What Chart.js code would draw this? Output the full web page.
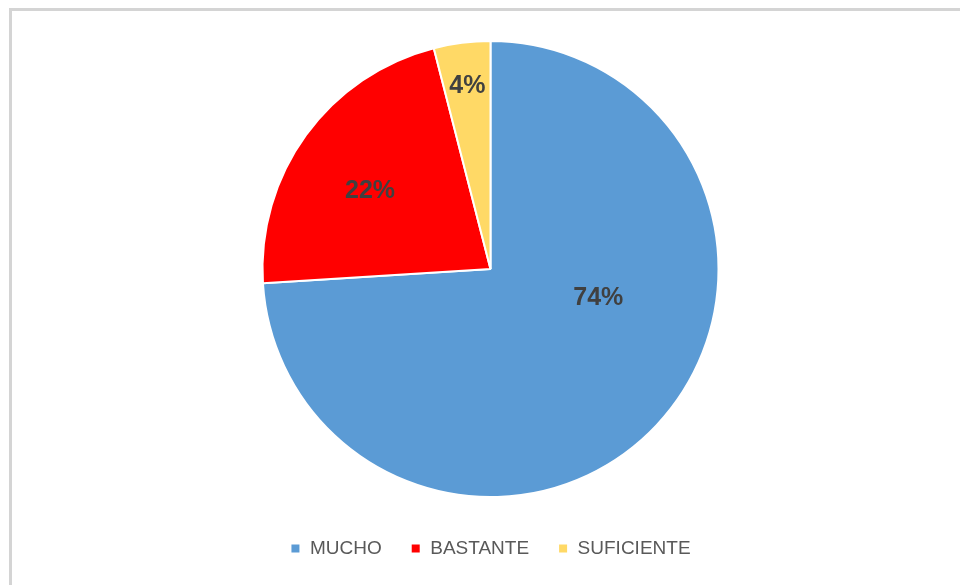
<!DOCTYPE html>
<html>
<head>
<meta charset="utf-8">
<script src="https://cdn.jsdelivr.net/npm/chart.js@4/dist/chart.umd.min.js"></script>
<style>
    html, body {
        margin: 0;
        padding: 0;
        background: #ffffff;
        overflow: hidden;
    }
    .frame {
        position: absolute;
        left: 9px;
        top: 8px;
        width: 1000px;
        height: 700px;
        border: 3px solid #d4d4d4;
    }
    .chart-box {
        position: absolute;
        left: 0;
        top: 0;
        width: 960px;
        height: 585px;
    }
</style>
</head>
<body>
<div class="frame"></div>
<div class="chart-box">
    <canvas id="pieChart"></canvas>
</div>
<script>
const categories = ["MUCHO", "BASTANTE", "SUFICIENTE"];
const percentages = [74, 22, 4];
const sliceColors = ["#5b9bd5", "#ff0000", "#ffd966"];

// Where each percentage label sits inside its slice
// (fraction of the radius, and a turn away from the slice middle in degrees).
const labelPlacement = {
    radius: [0.49, 0.63, 0.81],
    turn: [-28, -3, 0]
};

const sliceLabels = {
    id: "sliceLabels",
    afterDatasetsDraw(chart) {
        const ctx = chart.ctx;
        const arcs = chart.getDatasetMeta(0).data;
        ctx.save();
        ctx.font = "bold 25px 'Liberation Sans', Arial, sans-serif";
        ctx.fillStyle = "#404040";
        ctx.textAlign = "center";
        ctx.textBaseline = "middle";
        arcs.forEach((arc, i) => {
            const props = arc.getProps(["x", "y", "startAngle", "endAngle", "outerRadius"], true);
            const mid = (props.startAngle + props.endAngle) / 2 + labelPlacement.turn[i] * Math.PI / 180;
            const r = props.outerRadius * labelPlacement.radius[i];
            ctx.fillText(percentages[i] + "%", props.x + Math.cos(mid) * r, props.y + Math.sin(mid) * r);
        });
        ctx.restore();
    }
};

new Chart(document.getElementById("pieChart").getContext("2d"), {
    type: "pie",
    data: {
        labels: categories,
        datasets: [
            {
                data: percentages,
                backgroundColor: sliceColors,
                borderColor: "#ffffff",
                borderWidth: 2
            }
        ]
    },
    options: {
        responsive: true,
        maintainAspectRatio: false,
        animation: false,
        layout: {
            padding: { top: 40, left: 21, right: 0, bottom: 17 }
        },
        plugins: {
            tooltip: { enabled: false },
            legend: {
                position: "bottom",
                // empty title only used as a spacer above the legend row
                title: {
                    display: true,
                    text: "",
                    font: { size: 10 },
                    padding: 0
                },
                labels: {
                    boxWidth: 10,
                    boxHeight: 10,
                    padding: 29,
                    color: "#595959",
                    font: { size: 19, family: "'Liberation Sans', Arial, sans-serif" }
                }
            }
        }
    },
    plugins: [sliceLabels]
});
</script>
</body>
</html>
